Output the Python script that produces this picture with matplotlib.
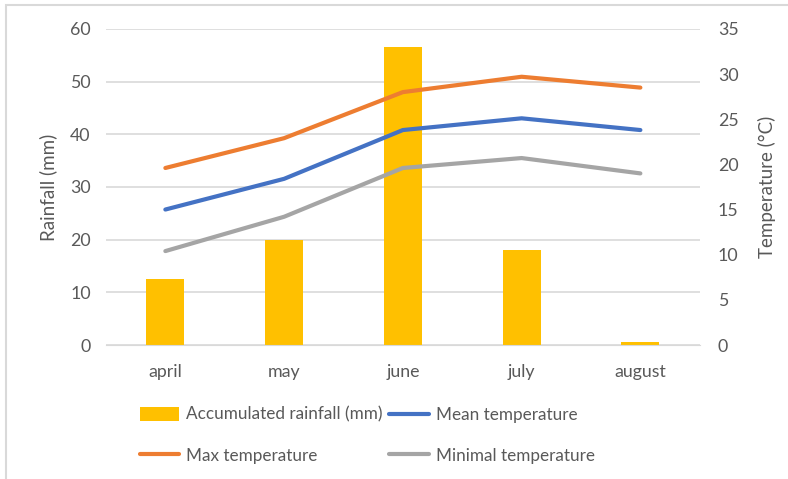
import matplotlib.pyplot as plt
import matplotlib.patches as mpatches
import numpy as np

months = ["april", "may", "june", "july", "august"]
rainfall = [12.5, 20.0, 56.5, 18.0, 0.5]
mean_temp = [15.0, 18.4, 23.8, 25.1, 23.8]
max_temp = [19.6, 22.9, 28.0, 29.7, 28.5]
min_temp = [10.4, 14.2, 19.6, 20.7, 19.0]

text_color = "#595959"
plt.rcParams["font.family"] = ["Lato", "DejaVu Sans"]

fig = plt.figure(figsize=(7.88, 4.79), dpi=100)
ax = fig.add_axes([0.1345, 0.2797, 0.7535, 0.66])
ax2 = ax.twinx()

x = np.arange(len(months))
bars = ax.bar(x, rainfall, 0.32, color="#FFC000", zorder=2, label="Accumulated rainfall (mm)")
l_mean, = ax2.plot(x, mean_temp, color="#4472C4", lw=3, solid_capstyle="round", label="Mean temperature")
l_max, = ax2.plot(x, max_temp, color="#ED7D31", lw=3, solid_capstyle="round", label="Max temperature")
l_min, = ax2.plot(x, min_temp, color="#A5A5A5", lw=3, solid_capstyle="round", label="Minimal temperature")

ax.set_xlim(-0.5, 4.5)
ax.set_ylim(0, 60)
ax.set_yticks(np.arange(0, 61, 10))
ax2.set_ylim(0, 35)
ax2.set_yticks(np.arange(0, 36, 5))
ax.set_xticks(x, months)

ax.grid(axis="y", color="#D9D9D9", lw=1.2, zorder=0)
ax.set_axisbelow(True)
for a in (ax, ax2):
    for s in a.spines.values():
        s.set_visible(False)
    a.tick_params(length=0, labelsize=12.8, colors=text_color)
ax.tick_params(axis="y", pad=11)
ax2.tick_params(axis="y", pad=13)
ax.tick_params(axis="x", pad=14)
ax.spines["bottom"].set_visible(True)
ax.spines["bottom"].set_color("#D9D9D9")

ax.set_ylabel("Rainfall (mm)", fontsize=13.5, color=text_color, labelpad=9)
ax2.set_ylabel("Temperature (°C)", fontsize=13.5, color=text_color, labelpad=14)

handles = [bars, l_max, l_mean, l_min]
leg = fig.legend(handles, [h.get_label() for h in handles], ncol=2, loc="upper left",
                 bbox_to_anchor=(0.169, 0.165), frameon=False, fontsize=12.3,
                 labelcolor=text_color, handlelength=2.3, handletextpad=0.4,
                 columnspacing=0.4, labelspacing=1.45, handleheight=0.8,
                 borderaxespad=0)

# light frame around the chart
fig.patches.append(mpatches.Rectangle((6 / 788, -0.1), 1.2, 1 - 5 / 479 + 0.1,
                                      transform=fig.transFigure, fill=False,
                                      edgecolor="#D9D9D9", lw=1.5))

fig.savefig("out.png", dpi=100)
